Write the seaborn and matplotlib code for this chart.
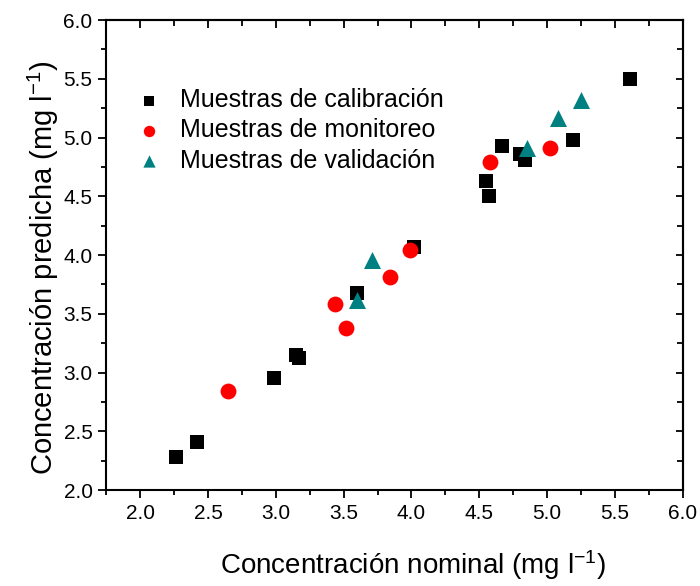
import matplotlib
matplotlib.use("Agg")
import matplotlib.pyplot as plt
import seaborn as sns
import pandas as pd
from matplotlib.ticker import MultipleLocator, FormatStrFormatter

sns.set_theme(style="white")
plt.rcParams['font.family'] = ['Liberation Sans', 'DejaVu Sans']
plt.rcParams['mathtext.fontset'] = 'custom'
plt.rcParams['mathtext.rm'] = 'Liberation Sans'
plt.rcParams['mathtext.it'] = 'Liberation Sans'
plt.rcParams['text.color'] = 'black'
plt.rcParams['axes.labelcolor'] = 'black'

cal_x = [2.26, 2.42, 2.99, 3.15, 3.17, 3.60, 4.02, 4.55, 4.57, 4.67, 4.80, 4.84, 5.19, 5.61]
cal_y = [2.28, 2.41, 2.95, 3.15, 3.12, 3.68, 4.07, 4.63, 4.50, 4.93, 4.86, 4.81, 4.98, 5.50]
mon_x = [2.65, 3.44, 3.52, 3.84, 3.99, 4.58, 5.02]
mon_y = [2.84, 3.58, 3.38, 3.81, 4.04, 4.79, 4.91]
val_x = [3.60, 3.71, 4.85, 5.08, 5.25]
val_y = [3.62, 3.96, 4.91, 5.17, 5.32]

labels = ["Muestras de calibración", "Muestras de monitoreo", "Muestras de validación"]

df = pd.concat([
    pd.DataFrame({"x": cal_x, "y": cal_y, "grupo": labels[0]}),
    pd.DataFrame({"x": mon_x, "y": mon_y, "grupo": labels[1]}),
    pd.DataFrame({"x": val_x, "y": val_y, "grupo": labels[2]}),
])

fig = plt.figure(figsize=(7.0, 5.86), dpi=100)
ax = fig.add_axes([0.152, 0.1638, 0.823, 0.802])

palette = {labels[0]: "black", labels[1]: "#ff0000", labels[2]: "#008080"}
markers = {labels[0]: "s", labels[1]: "o", labels[2]: "^"}
sizes_map = {labels[0]: 110, labels[1]: 130, labels[2]: 150}

for lab in labels:
    sub = df[df.grupo == lab]
    sns.scatterplot(data=sub, x="x", y="y", color=palette[lab], marker=markers[lab],
                    s=sizes_map[lab], linewidth=0, ax=ax, label=lab, zorder=3)

ax.set_xlim(1.75, 6.0)
ax.set_ylim(2.0, 6.0)
ax.xaxis.set_major_locator(MultipleLocator(0.5))
ax.xaxis.set_minor_locator(MultipleLocator(0.25))
ax.yaxis.set_major_locator(MultipleLocator(0.5))
ax.yaxis.set_minor_locator(MultipleLocator(0.25))
ax.xaxis.set_major_formatter(FormatStrFormatter('%.1f'))
ax.yaxis.set_major_formatter(FormatStrFormatter('%.1f'))
ax.tick_params(which='both', direction='out', colors='black', labelsize=15,
               bottom=True, left=True, top=False, right=False, width=1.3)
ax.tick_params(which='major', length=6, pad=4)
ax.tick_params(which='minor', length=3.6)

for side in ['top', 'right', 'bottom', 'left']:
    ax.spines[side].set_color('black')
    ax.spines[side].set_linewidth(1.5)

sx = ax.secondary_xaxis('top')
sx.xaxis.set_major_locator(MultipleLocator(0.5))
sx.xaxis.set_minor_locator(MultipleLocator(0.25))
sx.tick_params(which='both', direction='in', labeltop=False, width=1.3, colors='black')
sx.tick_params(which='major', length=6)
sx.tick_params(which='minor', length=4.5)
sx.spines['top'].set_linewidth(1.5)
sy = ax.secondary_yaxis('right')
sy.yaxis.set_major_locator(MultipleLocator(0.5))
sy.yaxis.set_minor_locator(MultipleLocator(0.25))
sy.tick_params(which='both', direction='in', labelright=False, width=1.3, colors='black')
sy.tick_params(which='major', length=5)
sy.tick_params(which='minor', length=4)
sy.spines['right'].set_linewidth(1.5)

ax.set_xlabel("Concentración nominal (mg l$^{-1}$)", fontsize=20, labelpad=18)
ax.set_ylabel("Concentración predicha (mg l$^{-1}$)", fontsize=21, labelpad=2)
ax.xaxis.label.set_x(0.532)
ax.yaxis.label.set_y(0.474)

leg = ax.legend(loc='center left', bbox_to_anchor=(0.035, 0.765), frameon=False,
                fontsize=18, handletextpad=0.73, labelspacing=0.25, borderaxespad=0,
                markerscale=0.72, handlelength=1.0)

fig.savefig("out.png", dpi=100)
